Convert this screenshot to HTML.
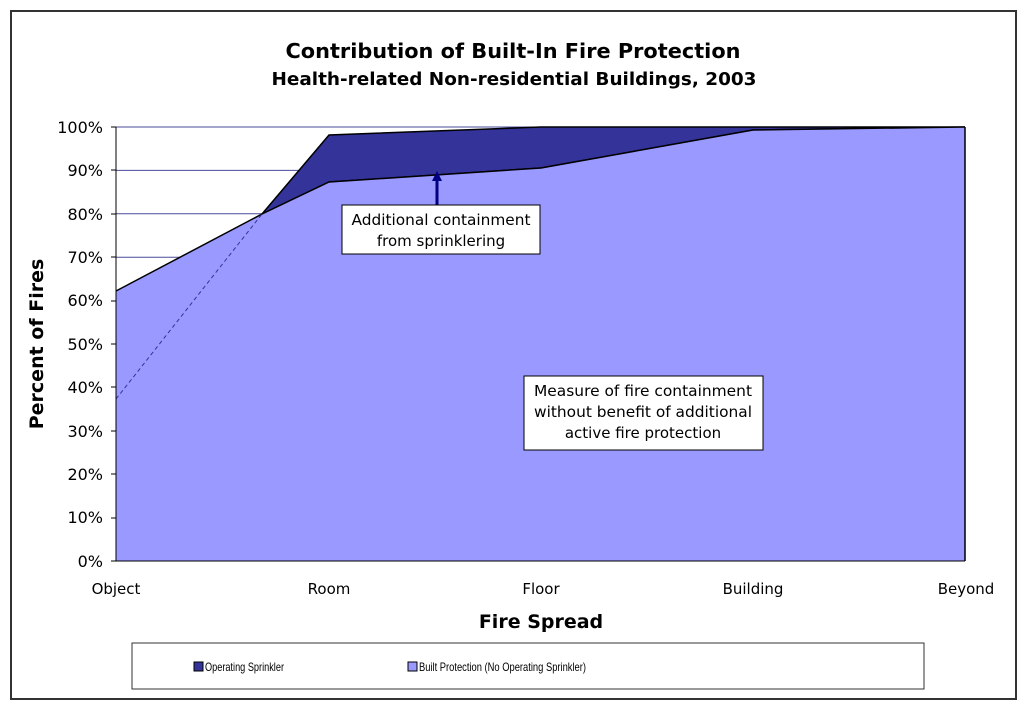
<!DOCTYPE html>
<html><head><meta charset="utf-8"><style>
body{margin:0;background:#fff;}
svg text{font-family:"DejaVu Sans","Liberation Sans",sans-serif;}
</style></head><body>
<svg width="1024" height="709" viewBox="0 0 1024 709" xmlns="http://www.w3.org/2000/svg">
<rect x="11" y="11" width="1005" height="688" fill="#fff" stroke="#333" stroke-width="2"/>
<text x="513" y="58" text-anchor="middle" font-size="20" font-weight="bold" textLength="455" lengthAdjust="spacingAndGlyphs">Contribution of Built-In Fire Protection</text>
<text x="514" y="85" text-anchor="middle" font-size="18" font-weight="bold" textLength="485" lengthAdjust="spacingAndGlyphs">Health-related Non-residential Buildings, 2003</text>
<g stroke="#4a4a99" stroke-width="1">
<line x1="116" y1="127" x2="965" y2="127"/>
<line x1="116" y1="170.4" x2="965" y2="170.4"/>
<line x1="116" y1="213.8" x2="965" y2="213.8"/>
<line x1="116" y1="257.2" x2="965" y2="257.2"/>
</g>
<polygon points="262,214 329,135 541,127 965,127 753,130 541,168 329,182" fill="#333399" stroke="#000" stroke-width="1.5"/>
<polygon points="116,561 116,291 262,214 329,182 541,168 753,130 965,127 965,561" fill="#9999ff"/>
<polyline points="116,291 262,214 329,182 541,168 753,130 965,127" fill="none" stroke="#000" stroke-width="1.5"/>
<line x1="965" y1="127" x2="965" y2="561" stroke="#000" stroke-width="1.5"/>
<line x1="116" y1="399" x2="262" y2="214" stroke="#333399" stroke-width="1" stroke-dasharray="4,3"/>
<g stroke="#000" stroke-width="1">
<line x1="116" y1="127" x2="116" y2="561"/>
<line x1="116" y1="561" x2="965" y2="561"/>
</g>
<g font-size="16" text-anchor="end" fill="#000">
<text x="103" y="133">100%</text><text x="103" y="176">90%</text><text x="103" y="220">80%</text><text x="103" y="263">70%</text><text x="103" y="306">60%</text><text x="103" y="350">50%</text><text x="103" y="393">40%</text><text x="103" y="437">30%</text><text x="103" y="480">20%</text><text x="103" y="523">10%</text><text x="103" y="567">0%</text>
</g>
<g stroke="#000"><line x1="111" y1="127" x2="116" y2="127"/><line x1="111" y1="170" x2="116" y2="170"/><line x1="111" y1="214" x2="116" y2="214"/><line x1="111" y1="257" x2="116" y2="257"/><line x1="111" y1="301" x2="116" y2="301"/><line x1="111" y1="344" x2="116" y2="344"/><line x1="111" y1="387" x2="116" y2="387"/><line x1="111" y1="431" x2="116" y2="431"/><line x1="111" y1="474" x2="116" y2="474"/><line x1="111" y1="518" x2="116" y2="518"/><line x1="111" y1="561" x2="116" y2="561"/></g>
<g font-size="15" text-anchor="middle">
<text x="116" y="594">Object</text><text x="329" y="594">Room</text><text x="541" y="594">Floor</text><text x="753" y="594">Building</text><text x="966" y="594">Beyond</text>
</g>
<text x="541" y="628" text-anchor="middle" font-size="19" font-weight="bold">Fire Spread</text>
<text transform="translate(43,344) rotate(-90)" text-anchor="middle" font-size="19" font-weight="bold">Percent of Fires</text>
<line x1="437" y1="205" x2="437" y2="178" stroke="#000080" stroke-width="3"/>
<polygon points="437,171 432,181 442,181" fill="#000080"/>
<rect x="342" y="205" width="198" height="49" fill="#fff" stroke="#000" stroke-width="1"/>
<text x="441" y="225" text-anchor="middle" font-size="15" textLength="179" lengthAdjust="spacingAndGlyphs">Additional containment</text>
<text x="441" y="246" text-anchor="middle" font-size="15">from sprinklering</text>
<rect x="524" y="376" width="239" height="74" fill="#fff" stroke="#000" stroke-width="1"/>
<text x="643" y="396" text-anchor="middle" font-size="15" textLength="218" lengthAdjust="spacingAndGlyphs">Measure of fire containment</text>
<text x="643" y="417" text-anchor="middle" font-size="15" textLength="218" lengthAdjust="spacingAndGlyphs">without benefit of additional</text>
<text x="643" y="438" text-anchor="middle" font-size="15">active fire protection</text>
<rect x="132" y="643" width="792" height="46" fill="#fff" stroke="#333" stroke-width="1"/>
<rect x="194" y="662" width="9" height="9" fill="#333399" stroke="#000"/>
<text x="205" y="671" font-size="12" textLength="79" lengthAdjust="spacingAndGlyphs" style="font-family:'Liberation Sans',sans-serif">Operating Sprinkler</text>
<rect x="408" y="662" width="9" height="9" fill="#9999ff" stroke="#000"/>
<text x="419" y="671" font-size="12" textLength="167" lengthAdjust="spacingAndGlyphs" style="font-family:'Liberation Sans',sans-serif">Built Protection (No Operating Sprinkler)</text>
</svg>
</body></html>
